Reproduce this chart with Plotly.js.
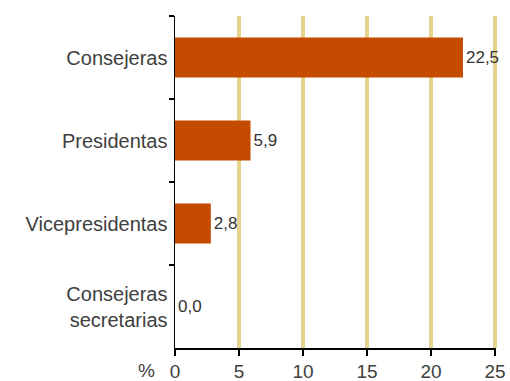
<!DOCTYPE html>
<html>
<head>
<meta charset="utf-8">
<script src="https://cdn.plot.ly/plotly-3.0.1.min.js"></script>
<style>html,body{margin:0;padding:0;background:#fff;}#chart{width:510px;height:381px;}</style>
</head>
<body>
<div id="chart"></div>
<script>
const categories = ["Consejeras", "Presidentas", "Vicepresidentas", "Consejeras<br>secretarias"];
const values = [22.5, 5.9, 2.8, 0.0];
const valueLabels = ["22,5", "5,9", "2,8", "0,0"];
const xTickVals = [0, 5, 10, 15, 20, 25];
const xTickText = ["0", "5", "10", "15", "20", "25"];
const unitLabel = "%";

const trace = {
  type: "bar",
  orientation: "h",
  x: values,
  y: categories,
  text: valueLabels,
  textposition: "outside",
  constraintext: "none",
  cliponaxis: false,
  textfont: {family: "Liberation Sans, Arial, sans-serif", size: 17, color: "#333"},
  width: 0.48,
  marker: {color: "#c44b00", line: {width: 0}},
  hoverinfo: "none"
};

const layout = {
  width: 510, height: 381,
  margin: {l: 175, r: 14, t: 16, b: 33, pad: 0},
  paper_bgcolor: "#fff", plot_bgcolor: "#fff",
  showlegend: false,
  font: {family: "Liberation Sans, Arial, sans-serif", color: "#404040"},
  xaxis: {
    range: [0, 25.08], tickvals: xTickVals, ticktext: xTickText,
    ticks: "outside", ticklen: 6, tickcolor: "#000", tickwidth: 1.5,
    showline: true, linecolor: "#000", linewidth: 1.5,
    showgrid: true, gridcolor: "#e5d38f", gridwidth: 4,
    zeroline: false, fixedrange: true,
    tickfont: {size: 19, color: "#404040"}
  },
  yaxis: {
    type: "category", categoryorder: "array", categoryarray: categories,
    autorange: "reversed",
    tickson: "boundaries",
    ticks: "outside", ticklen: 5, tickcolor: "#000", tickwidth: 1.5,
    ticklabelstandoff: 2,
    showline: true, linecolor: "#000", linewidth: 1.5,
    showgrid: false, zeroline: false, fixedrange: true,
    tickfont: {size: 20, color: "#404040"}
  },
  annotations: [{
    text: unitLabel, xref: "paper", yref: "paper", x: 0, y: 0,
    xanchor: "right", yanchor: "top", xshift: -18, yshift: -10,
    showarrow: false, font: {size: 19, color: "#404040"}
  }]
};

Plotly.newPlot("chart", [trace], layout, {displayModeBar: false, staticPlot: true});
</script>
</body>
</html>
